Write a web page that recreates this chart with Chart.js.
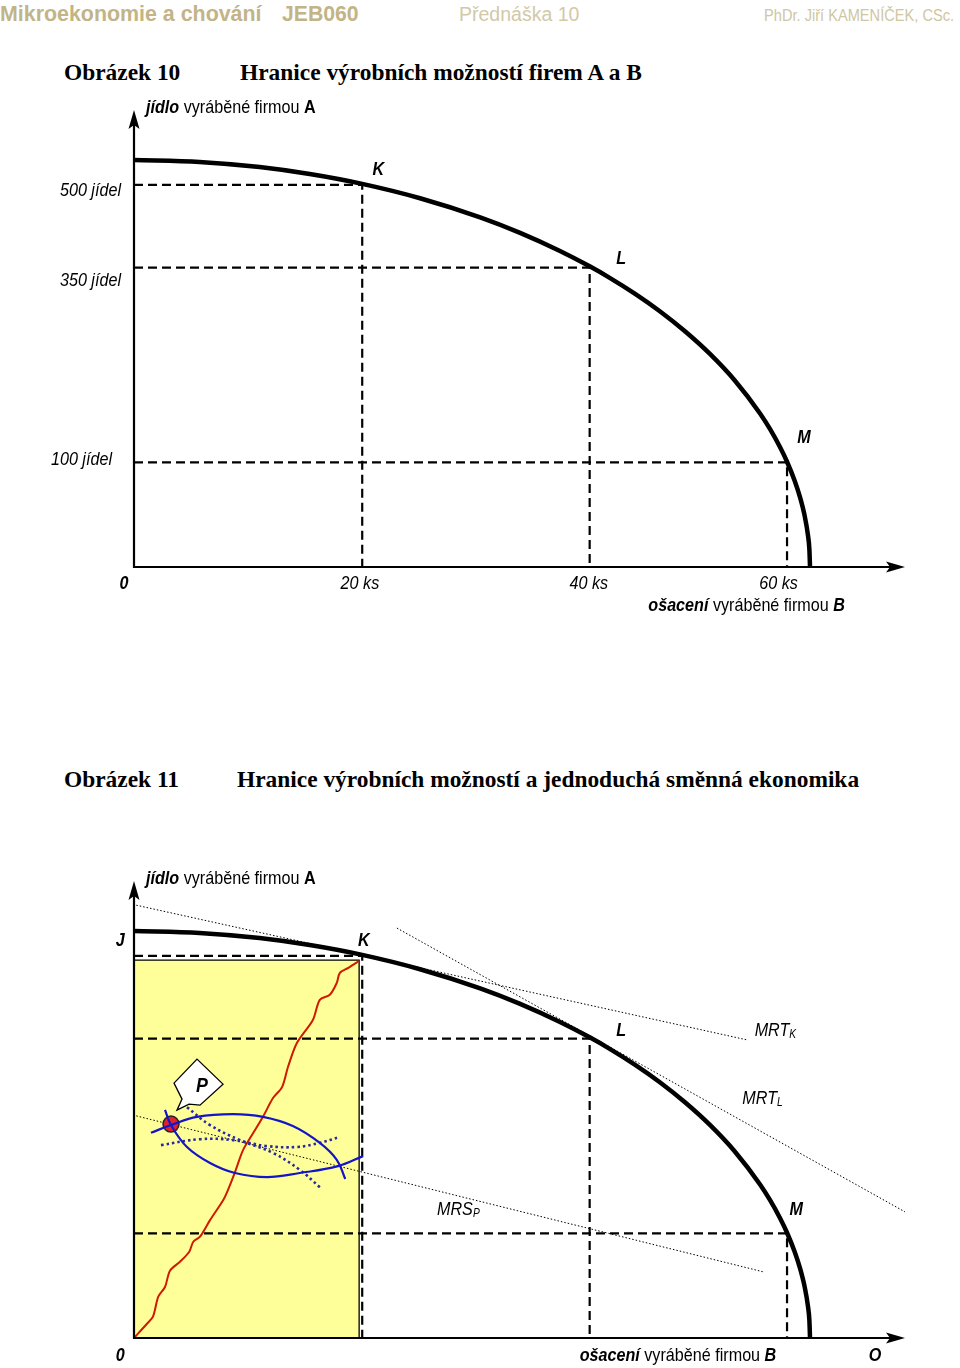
<!DOCTYPE html>
<html><head><meta charset="utf-8">
<script src="https://cdn.jsdelivr.net/npm/chart.js@4.4.1/dist/chart.umd.min.js"></script>
<style>
body{margin:0;width:960px;height:1368px;position:relative;background:#fff;overflow:hidden;}
.t{position:absolute;white-space:nowrap;line-height:26px;}
.hdr{font-family:"Liberation Sans",Arial,sans-serif;line-height:24px;top:2px;}
.ttl{font-family:"Liberation Serif","Times New Roman",serif;font-weight:bold;font-size:23.4px;color:#000;}
canvas{position:absolute;left:0;}
</style></head>
<body>
<div class="t hdr" style="left:0;color:#c2b487;font-weight:bold;font-size:21.4px;">Mikroekonomie a chování</div>
<div class="t hdr" style="left:282px;color:#c2b487;font-weight:bold;font-size:21.2px;">JEB060</div>
<div class="t hdr" style="left:459px;color:#d2c9a6;font-size:19.5px;">Přednáška 10</div>
<div class="t hdr" style="left:764px;color:#cfc6a2;font-size:17px;top:4px;transform:scaleX(0.86);transform-origin:0 50%;">PhDr. Jiří KAMENÍČEK, CSc.</div>
<div class="t ttl" style="left:64px;top:59px;">Obrázek 10</div>
<div class="t ttl" style="left:240px;top:59px;">Hranice výrobních možností firem A a B</div>
<div class="t ttl" style="left:64px;top:766px;">Obrázek 11</div>
<div class="t ttl" style="left:237px;top:766px;">Hranice výrobních možností a jednoduchá směnná ekonomika</div>
<canvas id="c1" width="960" height="640" style="top:0"></canvas>
<canvas id="c2" width="960" height="668" style="top:700px"></canvas>
<script>
// ---------- data (schematic units, both axes 0..100) ----------
const frontierX = [0, 8.5, 16.3, 23.0, 29.6, 37.1, 44.9, 50.0, 55.25, 59.1, 61.7, 65.0, 68.2, 71.5, 74.7, 77.9, 81.2, 82.5, 83.8, 84.7, 85.7, 86.4, 87.0, 87.4, 87.6, 87.68];
const frontierY = [89.06, 88.64, 87.51, 85.94, 83.83, 80.69, 76.50, 73.16, 69.15, 65.79, 63.28, 59.77, 55.97, 51.54, 46.63, 40.87, 33.60, 30.16, 26.21, 23.03, 18.83, 15.16, 11.08, 7.12, 3.80, 0];
const pointNames = ['K', 'L', 'M'];
const pointX = [29.6, 59.1, 84.7];
const pointY = [83.6, 65.5, 22.9];
const xTickLabels = ['0', '20 ks', '40 ks', '60 ks'];
const xTickPos = [-1.3, 29.3, 59.0, 83.6];
const yTickLabels = ['500 jídel', '350 jídel', '100 jídel'];
const yTickPos = [82.3, 62.6, 23.4];
// figure 11
const boxX = [0, 0, 29.2, 29.2];
const boxY = [0, 82.7, 82.7, 0];
const contractX = [0, 1.65, 2.46, 3.15, 4.02, 4.67, 5.97, 7.17, 7.69, 8.56, 9.86, 11.58, 12.19, 13.1, 14.14, 15.3, 16.73, 18.03, 19.2, 19.97, 21.14, 23.2, 24.1, 25.4, 26.3, 26.7, 27.8, 29.2];
const contractY = [0, 3.06, 4.66, 9.04, 11.16, 14.73, 16.7, 18.88, 21.07, 22.17, 25.8, 30.2, 32.4, 36.3, 41.1, 44.4, 48.4, 52.5, 54.9, 59.3, 64.6, 69.6, 74.0, 75.1, 77.7, 79.9, 81.0, 82.5];
const indiff1X = [2.2, 4.8, 8.17, 12.84, 16.73, 20.6, 24.1, 26.3, 27.4];
const indiff1Y = [44.9, 46.6, 48.4, 49.0, 48.4, 46.4, 42.7, 39.0, 34.8];
const indiff2X = [4.02, 4.8, 6.87, 9.86, 13.1, 17.25, 21.5, 26.46, 29.7];
const indiff2Y = [49.9, 46.6, 41.8, 38.3, 36.1, 35.2, 36.1, 37.6, 39.8];
const dotted1X = [6.87, 9.86, 13.75, 18.03, 21.5, 24.1];
const dotted1Y = [50.5, 46.6, 43.3, 40.5, 36.8, 33.0];
const dotted2X = [3.5, 8.56, 12.84, 17.25, 21.14, 24.1, 26.7];
const dotted2Y = [42.2, 43.5, 43.3, 42.0, 41.8, 42.7, 44.0];
const mrtKX = [0.3, 79.6], mrtKY = [94.7, 65.2];
const mrtLX = [34.1, 100], mrtLY = [89.7, 27.6];
const mrsPX = [0.3, 81.8], mrsPY = [48.6, 14.4];
const pointP = [4.8, 46.8];

// ---------- helpers ----------
const FAM = '"Liberation Sans",Arial,sans-serif';
const SQ = 0.85; // horizontal squeeze to imitate a narrow face
const zip = (xs, ys) => xs.map((x, i) => ({x, y: ys[i]}));
const fnt = (st, sz) => `${st} ${sz}px ${FAM}`;
function px(chart, x, y) { return [chart.scales.x.getPixelForValue(x), chart.scales.y.getPixelForValue(y)]; }
function rich(ctx, x, y, parts, align) {
  ctx.save(); ctx.textBaseline = 'middle'; ctx.fillStyle = '#000'; ctx.textAlign = 'left';
  let w = 0;
  parts.forEach(p => { ctx.font = p.f; w += ctx.measureText(p.t).width; });
  const sw = w * SQ;
  const sx = align === 'right' ? x - sw : align === 'center' ? x - sw / 2 : x;
  ctx.translate(sx, y); ctx.scale(SQ, 1);
  let cx = 0;
  parts.forEach(p => { ctx.font = p.f; ctx.fillText(p.t, cx, p.dy || 0); cx += ctx.measureText(p.t).width; });
  ctx.restore();
}
function drawAxes(chart) {
  const {ctx, chartArea: a} = chart;
  const [ox, oy] = px(chart, 0, 0);
  ctx.save(); ctx.strokeStyle = '#000'; ctx.fillStyle = '#000'; ctx.lineWidth = 2.2;
  ctx.beginPath(); ctx.moveTo(ox, oy + 1); ctx.lineTo(ox, a.top + 12); ctx.stroke();
  ctx.beginPath(); ctx.moveTo(ox - 1, oy); ctx.lineTo(a.right - 12, oy); ctx.stroke();
  ctx.beginPath(); ctx.moveTo(ox, a.top); ctx.lineTo(ox - 5.5, a.top + 19); ctx.lineTo(ox, a.top + 15); ctx.lineTo(ox + 5.5, a.top + 19); ctx.closePath(); ctx.fill();
  ctx.beginPath(); ctx.moveTo(a.right, oy); ctx.lineTo(a.right - 19, oy - 5.5); ctx.lineTo(a.right - 15, oy); ctx.lineTo(a.right - 19, oy + 5.5); ctx.closePath(); ctx.fill();
  ctx.restore();
}
function yTitle(chart) {
  const [ox] = px(chart, 0, 0);
  const top = chart.chartArea.top;
  rich(chart.ctx, ox + 12, top - 2, [
    {t: 'jídlo', f: fnt('italic bold', 19)},
    {t: ' vyráběné firmou ', f: fnt('normal', 19)},
    {t: 'A', f: fnt('bold', 19)}], 'left');
}
function xTitle(chart, xr, dy) {
  const [x, y] = px(chart, xr, 0);
  rich(chart.ctx, x, y + dy, [
    {t: 'ošacení', f: fnt('italic bold', 19)},
    {t: ' vyráběné firmou ', f: fnt('normal', 19)},
    {t: 'B', f: fnt('italic bold', 19)}], 'right');
}
function lbl(chart, t, x, y, style, align) {
  const [X, Y] = px(chart, x, y);
  rich(chart.ctx, X, Y, [{t, f: fnt(style || 'italic bold', 19)}], align || 'center');
}
function guideSets() {
  return pointX.map((x, i) => ({
    data: [{x: 0, y: pointY[i]}, {x, y: pointY[i]}, {x, y: 0}],
    borderColor: '#000', borderWidth: 2.2, borderDash: [9, 5], tension: 0, order: 9
  }));
}
function frontierSet() {
  return {data: zip(frontierX, frontierY), borderColor: '#000', borderWidth: 4.5, cubicInterpolationMode: 'monotone', borderJoinStyle: 'round', order: 1};
}
function baseOpts(padTop, padBottom) {
  return {
    responsive: false, animation: false, devicePixelRatio: 1,
    layout: {padding: {left: 134, right: 55, top: padTop, bottom: padBottom}},
    scales: {x: {type: 'linear', min: 0, max: 100, display: false}, y: {type: 'linear', min: 0, max: 100, display: false}},
    plugins: {legend: {display: false}, tooltip: {enabled: false}},
    elements: {point: {radius: 0}, line: {tension: 0, fill: false, capBezierPoints: false}},
    datasets: {scatter: {showLine: true, clip: false}}
  };
}

// ---------- figure 10 ----------
const deco1 = {id: 'deco1', afterDatasetsDraw(chart) {
  drawAxes(chart); yTitle(chart);
  const [ox, oy] = px(chart, 0, 0);
  yTickLabels.forEach((t, i) => {
    const [, y] = px(chart, 0, yTickPos[i]);
    rich(chart.ctx, ox - (i === 2 ? 22 : 13), y, [{t, f: fnt('italic', 19)}], 'right');
  });
  xTickLabels.forEach((t, i) => {
    const [x] = px(chart, xTickPos[i], 0);
    rich(chart.ctx, x, oy + 17, [{t, f: fnt(i === 0 ? 'italic bold' : 'italic', 19)}], 'center');
  });
  xTitle(chart, 92.2, 39);
  pointNames.forEach((n, i) => lbl(chart, n, [31.7, 63.2, 86.9][i], [86.9, 67.4, 28.2][i]));
}};
new Chart(document.getElementById('c1'), {
  type: 'scatter',
  data: {datasets: [frontierSet(), ...guideSets()]},
  options: baseOpts(110, 73),
  plugins: [deco1]
});

// ---------- figure 11 ----------
const deco2 = {id: 'deco2', afterDatasetsDraw(chart) {
  const ctx = chart.ctx;
  drawAxes(chart); yTitle(chart);
  const [, oy] = px(chart, 0, 0);
  const [z] = px(chart, -1.8, 0);
  rich(ctx, z, oy + 18, [{t: '0', f: fnt('italic bold', 19)}], 'center');
  const [o] = px(chart, 96.1, 0);
  rich(ctx, o, oy + 18, [{t: 'O', f: fnt('italic bold', 19)}], 'center');
  xTitle(chart, 83.3, 18);
  lbl(chart, 'J', -1.8, 86.9);
  pointNames.forEach((n, i) => lbl(chart, n, [29.8, 63.2, 85.9][i], [86.9, 67.2, 28.0][i]));
  const sub = (name, s, x, y) => { const [X, Y] = px(chart, x, y); rich(ctx, X, Y, [{t: name, f: fnt('italic', 19)}, {t: s, f: fnt('italic', 12), dy: 4}], 'left'); };
  sub('MRT', 'K', 80.5, 67.2); sub('MRT', 'L', 78.9, 52.3); sub('MRS', 'P', 39.3, 28.0);
  // callout for P
  const [Px, Py] = px(chart, pointP[0], pointP[1]);
  const poly = [[3, -41], [26, -65], [52, -40], [29, -19], [18, -20], [6, -14], [11, -25]];
  ctx.save(); ctx.beginPath();
  poly.forEach((p, i) => i ? ctx.lineTo(Px + p[0], Py + p[1]) : ctx.moveTo(Px + p[0], Py + p[1]));
  ctx.closePath(); ctx.fillStyle = '#fff'; ctx.fill(); ctx.strokeStyle = '#000'; ctx.lineWidth = 1.3; ctx.stroke(); ctx.restore();
  rich(ctx, Px + 31, Py - 38, [{t: 'P', f: fnt('italic bold', 21)}], 'center');
}};
const ds2 = [
  {data: zip(boxX, boxY), borderColor: '#000', borderWidth: 1.3, backgroundColor: '#ffff99', fill: 'origin', order: 20},
  ...guideSets(),
  {data: zip(mrtKX, mrtKY), borderColor: '#000', borderWidth: 1, borderDash: [1.5, 2], order: 7},
  {data: zip(mrtLX, mrtLY), borderColor: '#000', borderWidth: 1, borderDash: [1.5, 2], order: 7},
  {data: zip(mrsPX, mrsPY), borderColor: '#000', borderWidth: 1, borderDash: [1.5, 2], order: 7},
  {data: zip(contractX, contractY), borderColor: '#d01a00', borderWidth: 2, tension: 0.3, order: 8},
  {data: [{x: pointP[0], y: pointP[1]}], showLine: false, pointRadius: 8, pointBackgroundColor: '#e0202a', pointBorderColor: '#222', pointBorderWidth: 1.5, order: 6},
  {data: zip(dotted1X, dotted1Y), borderColor: '#2a2aa0', borderWidth: 2.6, borderDash: [2.5, 3], tension: 0.4, order: 5},
  {data: zip(dotted2X, dotted2Y), borderColor: '#2a2aa0', borderWidth: 2.6, borderDash: [2.5, 3], tension: 0.4, order: 5},
  {data: zip(indiff1X, indiff1Y), borderColor: '#1515c8', borderWidth: 2.2, tension: 0.4, order: 4},
  {data: zip(indiff2X, indiff2Y), borderColor: '#1515c8', borderWidth: 2.2, tension: 0.4, order: 4},
  frontierSet()
];
new Chart(document.getElementById('c2'), {
  type: 'scatter',
  data: {datasets: ds2},
  options: baseOpts(181, 30),
  plugins: [deco2]
});
</script>
</body></html>
